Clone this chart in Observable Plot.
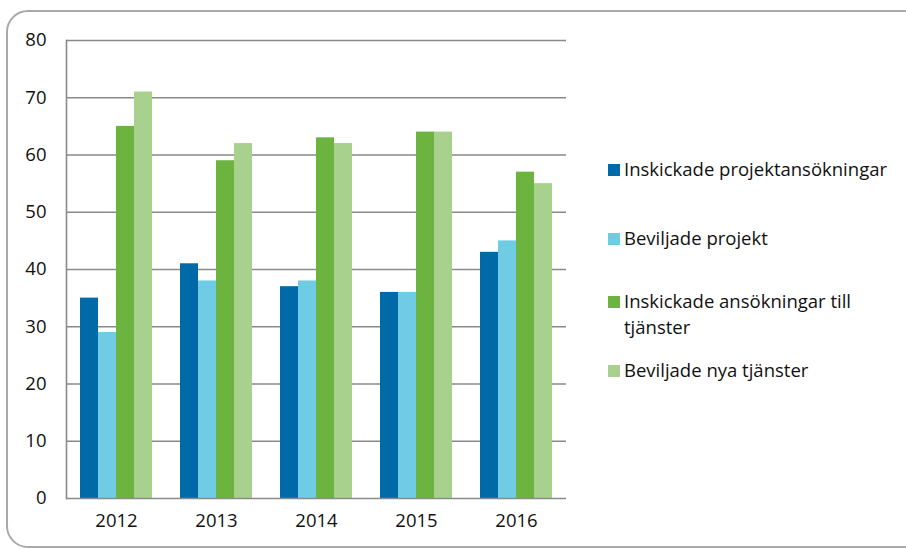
<!DOCTYPE html>
<html>
<head>
<meta charset="utf-8">
<script src="https://cdn.jsdelivr.net/npm/d3@7"></script>
<script src="https://cdn.jsdelivr.net/npm/@observablehq/plot@0.6"></script>
<style>
  html, body { margin: 0; padding: 0; background: #fff; }
  #wrap { position: relative; width: 906px; height: 549px; overflow: hidden; font-family: "Open Sans", sans-serif; }
  #border { position: absolute; left: 6px; top: 10px; width: 920px; height: 538px; border: 2px solid #a9a9a9; border-radius: 22px; box-sizing: border-box; }
  #chart { position: absolute; left: 0; top: 0; }
  #legend { position: absolute; left: 608px; top: 154px; font-size: 18.5px; color: #111; }
  .item { position: absolute; left: 0; width: 300px; line-height: 26px; padding-left: 16px; }
  .sw { position: absolute; left: 0; top: 8px; width: 12px; height: 12px; }
</style>
</head>
<body>
<div id="wrap">
  <div id="border"></div>
  <div id="chart"></div>
  <div id="legend"></div>
</div>
<script>
const years = ["2012", "2013", "2014", "2015", "2016"];
const seriesNames = ["Inskickade projektansökningar", "Beviljade projekt", "Inskickade ansökningar till tjänster", "Beviljade nya tjänster"];
const seriesColors = ["#006aa8", "#6fcce4", "#6db33f", "#a9d18e"];
const inskickadeProjekt = [35, 41, 37, 36, 43];
const beviljadeProjekt = [29, 38, 38, 36, 45];
const inskickadeTjanster = [65, 59, 63, 64, 57];
const beviljadeTjanster = [71, 62, 62, 64, 55];
const yTicks = [0, 10, 20, 30, 40, 50, 60, 70, 80];

const seriesValues = [inskickadeProjekt, beviljadeProjekt, inskickadeTjanster, beviljadeTjanster];
const data = [];
years.forEach((yr, i) => seriesNames.forEach((s, j) => data.push({year: yr, series: s, value: seriesValues[j][i]})));

const plot = Plot.plot({
  width: 580,
  height: 549,
  marginLeft: 66,
  marginRight: 14,
  marginTop: 40,
  marginBottom: 51,
  style: {fontFamily: "Open Sans, sans-serif", fontSize: "18.5px", color: "#111", background: "transparent"},
  fx: {domain: years, padding: 0, label: null, tickSize: 0, tickPadding: 15},
  x: {domain: seriesNames, paddingInner: 0, paddingOuter: 0.71, axis: null},
  y: {domain: [0, 80], ticks: yTicks, label: null, tickSize: 0, tickPadding: 20},
  color: {domain: seriesNames, range: seriesColors},
  marks: [
    Plot.ruleY(yTicks.slice(1), {stroke: "#8a8a8a", strokeWidth: 1.4}),
    Plot.barY(data, {fx: "year", x: "series", y: "value", fill: "series"}),
    Plot.ruleY([0], {stroke: "#8a8a8a", strokeWidth: 1.6}),
    Plot.frame({anchor: "left", facetAnchor: "left", stroke: "#8a8a8a", strokeWidth: 1.6})
  ]
});
document.getElementById("chart").appendChild(plot);

const legendTops = [2, 71, 134, 203];
const legend = document.getElementById("legend");
seriesNames.forEach((s, i) => {
  const it = document.createElement("div");
  it.className = "item";
  it.style.top = legendTops[i] + "px";
  if (i === 2) { it.style.width = "235px"; }
  const sw = document.createElement("span");
  sw.className = "sw";
  sw.style.background = seriesColors[i];
  it.appendChild(sw);
  it.appendChild(document.createTextNode(s));
  legend.appendChild(it);
});
</script>
</body>
</html>
